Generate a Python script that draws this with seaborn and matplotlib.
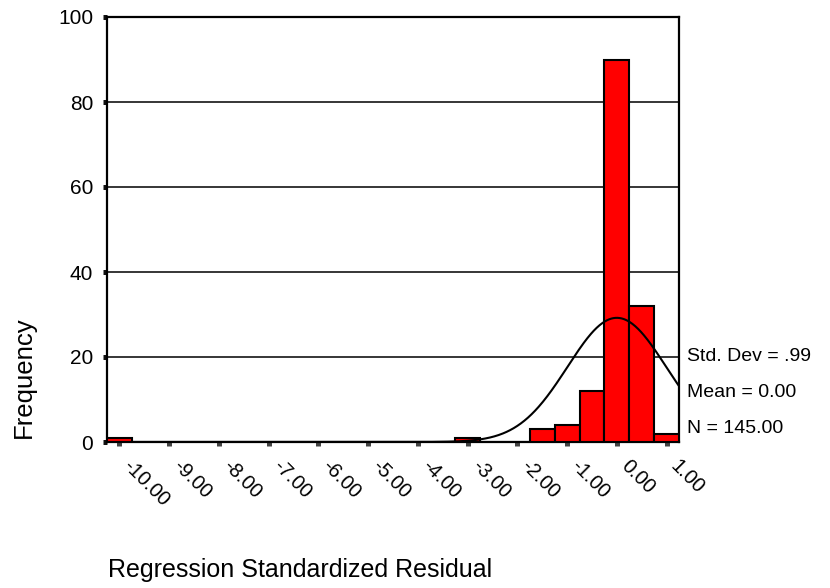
import numpy as np
import pandas as pd
import matplotlib
matplotlib.use("Agg")
import matplotlib.pyplot as plt
import matplotlib.transforms as mtransforms
import seaborn as sns

# Residual histogram (bin centres and counts, bin width 0.5)
bin_centers = [-10.0, -3.0, -1.5, -1.0, -0.5, 0.0, 0.5, 1.0]
bin_counts = [1, 1, 3, 4, 12, 90, 32, 2]
bin_width = 0.5

# Summary statistics shown beside the plot
std_dev = 0.99
mean_val = 0.00
n_total = 145.00

x_ticks = [-10, -9, -8, -7, -6, -5, -4, -3, -2, -1, 0, 1]
x_tick_labels = ["-10.00", "-9.00", "-8.00", "-7.00", "-6.00", "-5.00",
                 "-4.00", "-3.00", "-2.00", "-1.00", "0.00", "1.00"]
y_ticks = [0, 20, 40, 60, 80, 100]

sns.set_theme(style="white")
plt.rcParams["font.family"] = ["Liberation Sans", "DejaVu Sans"]
plt.rcParams["text.color"] = "black"
plt.rcParams["axes.labelcolor"] = "black"

W, H = 830, 588
fig = plt.figure(figsize=(W / 100, H / 100), dpi=100)
ax = fig.add_axes([107 / W, 1 - 442 / H, (679 - 107) / W, (442 - 17) / H])

df = pd.DataFrame({"resid": bin_centers, "count": bin_counts})
sns.histplot(data=df, x="resid", weights="count", binwidth=bin_width,
             binrange=(-10.25, 1.25), color="#ff0000", alpha=1.0,
             edgecolor="black", linewidth=1.5, ax=ax, zorder=3)

# Horizontal reference lines
for yv in [20, 40, 60, 80]:
    ax.axhline(yv, color="black", linewidth=1.1, zorder=1)

# Normal curve from the stated mean, std. dev. and N
xs = np.linspace(-10.25, 1.25, 800)
ys = n_total * bin_width / (std_dev * np.sqrt(2 * np.pi)) * np.exp(-0.5 * ((xs - mean_val) / std_dev) ** 2)
ax.plot(xs, ys, color="black", linewidth=1.5, zorder=4)

ax.set_xlim(-10.25, 1.25)
ax.set_ylim(0, 100)
ax.set_xlabel("")
ax.set_ylabel("")

ax.set_yticks(y_ticks)
ax.set_yticklabels([str(v) for v in y_ticks], fontsize=15)
ax.set_xticks(x_ticks)
ax.set_xticklabels(x_tick_labels, fontsize=14.5, rotation=-45,
                   ha="left", va="center", rotation_mode="anchor")
ax.tick_params(axis="x", bottom=True, length=3, width=3.6, color="#444444",
               labelcolor="black", pad=12, direction="out")
ax.tick_params(axis="y", left=True, length=3, width=3.6, color="#111111",
               labelcolor="black", pad=7, direction="out")
offset = mtransforms.ScaledTranslation(7 / 100, 0, fig.dpi_scale_trans)
for lab in ax.get_xticklabels():
    lab.set_transform(lab.get_transform() + offset)

for sp in ax.spines.values():
    sp.set_visible(True)
    sp.set_color("black")
    sp.set_linewidth(1.6)

# Statistics block to the right of the plot
fig.text(687 / W, 1 - 361 / H, "Std. Dev = .99", fontsize=14, va="baseline", ha="left")
fig.text(687 / W, 1 - 397 / H, "Mean = 0.00", fontsize=14, va="baseline", ha="left")
fig.text(687 / W, 1 - 433 / H, "N = 145.00", fontsize=14, va="baseline", ha="left")

fig.text(24 / W, 1 - 377 / H, "Frequency", fontsize=18.5, rotation=90, va="center", ha="center")
fig.text(108 / W, 1 - 577 / H, "Regression Standardized Residual", fontsize=18, va="baseline", ha="left")

fig.savefig("out.png", dpi=100)
